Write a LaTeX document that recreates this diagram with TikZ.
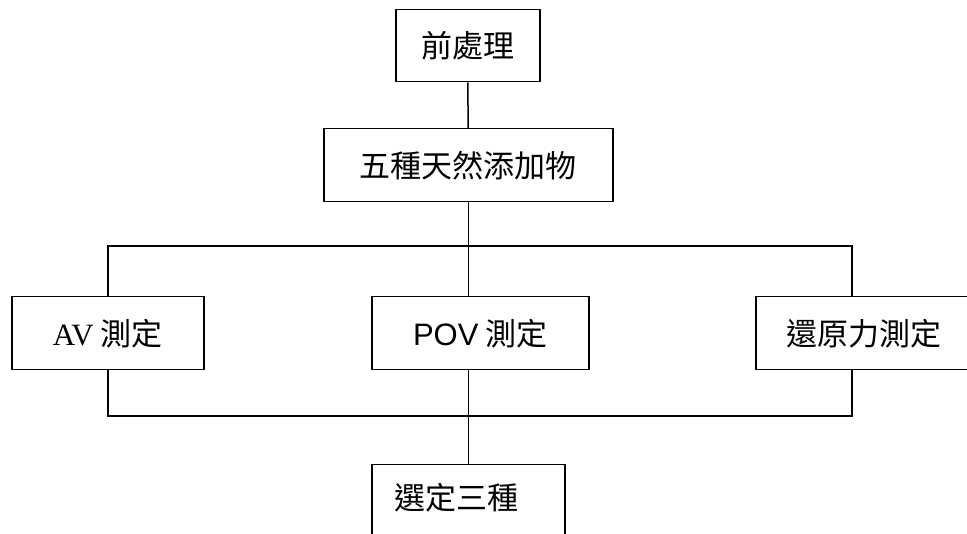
\documentclass[tikz,border=0pt]{standalone}
\usepackage{fontspec}
\newfontfamily\cjk{Noto Sans CJK TC}
\newfontfamily\lsans{Liberation Sans}
\newfontfamily\lserif{Liberation Serif}
\begin{document}
\begin{tikzpicture}[x=1pt,y=-1pt,
  box/.style={draw=black,line width=1.5pt,fill=white,inner sep=0pt,anchor=north west},
  lbl/.style={inner sep=0pt,font=\fontsize{31}{35}\selectfont\cjk},
  wire/.style={draw=black,line width=1.5pt}]
\useasboundingbox (0,0) rectangle (967,534);
\clip (0,0) rectangle (967,534);
% boxes
\node[box,minimum width=144pt,minimum height=72pt] (pre) at (395,9) {};
\node[lbl] (preT) at (pre.center) {前處理};
\node[box,minimum width=289pt,minimum height=73pt] (five) at (323,128) {};
\node[lbl] (fiveT) at (five.center) {五種天然添加物};
\node[box,minimum width=192pt,minimum height=73pt] (av) at (11,296) {};
\node[lbl] (avT) at (av.center) {{\lserif AV} 測定};
\node[box,minimum width=217pt,minimum height=73pt] (pov) at (371,296) {};
\node[lbl] (povT) at (pov.center) {{\lsans POV} 測定};
\node[box,minimum width=216pt,minimum height=73pt] (red) at (755,296) {};
\node[lbl] (redT) at (red.center) {還原力測定};
\node[box,minimum width=193pt,minimum height=90pt] (sel) at (371,464) {};
\node[lbl] (selT) at (456,498) {選定三種};
% connectors
\coordinate (tb) at (467,246);
\coordinate (bb) at (467,416);
\coordinate (rt) at (852,296);
\coordinate (rb) at (852,369);
\draw[wire] (pre.south) -- (five.north);
\draw[wire] (five.south) -- (five.south |- pov.north);
\draw[wire] (av.north) |- (tb) -| (rt);
\draw[wire] (av.south) |- (bb) -| (rb);
\draw[wire] (sel.north |- pov.south) -- (sel.north);
\end{tikzpicture}
\end{document}
